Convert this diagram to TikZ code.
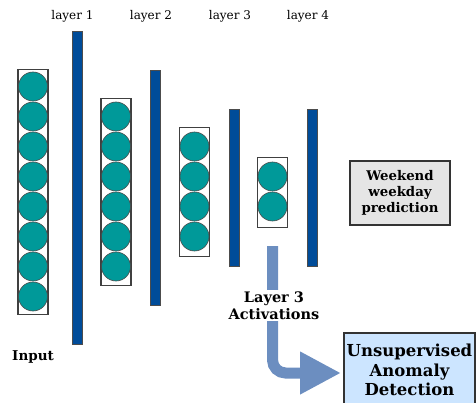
\documentclass[tikz,border=0pt]{standalone}
\usepackage{fontspec}
\setmainfont{DejaVu Serif}
\usetikzlibrary{arrows.meta}
\definecolor{teal1}{RGB}{0,153,153}
\definecolor{bar1}{RGB}{0,76,153}
\definecolor{flowc}{RGB}{108,142,192}
\definecolor{uadfill}{RGB}{204,229,255}
\tikzset{
  neuron/.style={circle, draw=black!70, line width=0.6pt, fill=teal1, minimum size=29pt, inner sep=0pt},
  colbox/.style={draw=black!75, line width=1.4pt, fill=white, minimum width=30pt, inner sep=0pt},
  layerbar/.style={draw=black!70, line width=0.5pt, fill=bar1, minimum width=10pt, inner sep=0pt},
  lbl/.style={font=\fontsize{12}{14}\selectfont, inner sep=0pt},
  outbox/.style={draw=black!80, line width=1.6pt, align=center, inner sep=0pt},
  flow/.style={draw=flowc, line width=11pt},
}
\begin{document}
\begin{tikzpicture}[x=1pt,y=-1pt]
\useasboundingbox (0,0) rectangle (476,403);
\clip (0,0) rectangle (476,403);
% column boxes
\node[colbox, minimum height=245pt] (c0) at (33,192) {};
\node[colbox, minimum height=187pt] (c1) at (116,192) {};
\node[colbox, minimum height=129pt] (c2) at (194.5,192) {};
\node[colbox, minimum height=70pt] (c3) at (272.5,192.5) {};
% neurons
\foreach \k in {0,...,7} \node[neuron] (n0\k) at (33,{191.5+30*(\k-3.5)}) {};
\foreach \k in {0,...,5} \node[neuron] (n1\k) at (116,{191.5+30*(\k-2.5)}) {};
\foreach \k in {0,...,3} \node[neuron] (n2\k) at (194.5,{191.5+30*(\k-1.5)}) {};
\foreach \k in {0,...,1} \node[neuron] (n3\k) at (272.5,{191.5+30*(\k-0.5)}) {};
% bars
\node[layerbar, minimum height=313pt] (b1) at (77,187.5) {};
\node[layerbar, minimum height=235pt] (b2) at (155,187.5) {};
\node[layerbar, minimum height=157pt] (b3) at (234,187.5) {};
\node[layerbar, minimum height=157pt] (b4) at (312,187.5) {};
% layer labels
\node[lbl] (l1) at (72.5,16) {layer 1};
\node[lbl] (l2) at (151,16) {layer 2};
\node[lbl] (l3) at (230,16) {layer 3};
\node[lbl] (l4) at (308,16) {layer 4};
% output boxes
\node[outbox, fill=black!10, minimum width=100pt, minimum height=64pt,
      font=\bfseries\fontsize{13.3}{16}\selectfont] (wk) at (400,193) {Weekend\\weekday\\prediction};
\node[outbox, fill=uadfill, minimum width=131pt, minimum height=74pt,
      font=\bfseries\fontsize{16.5}{19.5}\selectfont] (uad) at (409.5,370) {Unsupervised\\Anomaly\\Detection};
% input label
\node[font=\bfseries\fontsize{13.5}{16}\selectfont, inner sep=0pt] (inp) at (33,357) {Input};
% flow arrow
\coordinate (stem) at (272.5,246);
\coordinate (tip) at (341,373);
\draw[flow, rounded corners=13pt, -{Triangle[length=41pt,width=40pt]}] (stem) |- (tip);
\node[fill=white, align=center, inner sep=1.5pt, font=\bfseries\fontsize{14.5}{17}\selectfont] (act) at (274,305.5) {Layer 3\\Activations};
\end{tikzpicture}
\end{document}
